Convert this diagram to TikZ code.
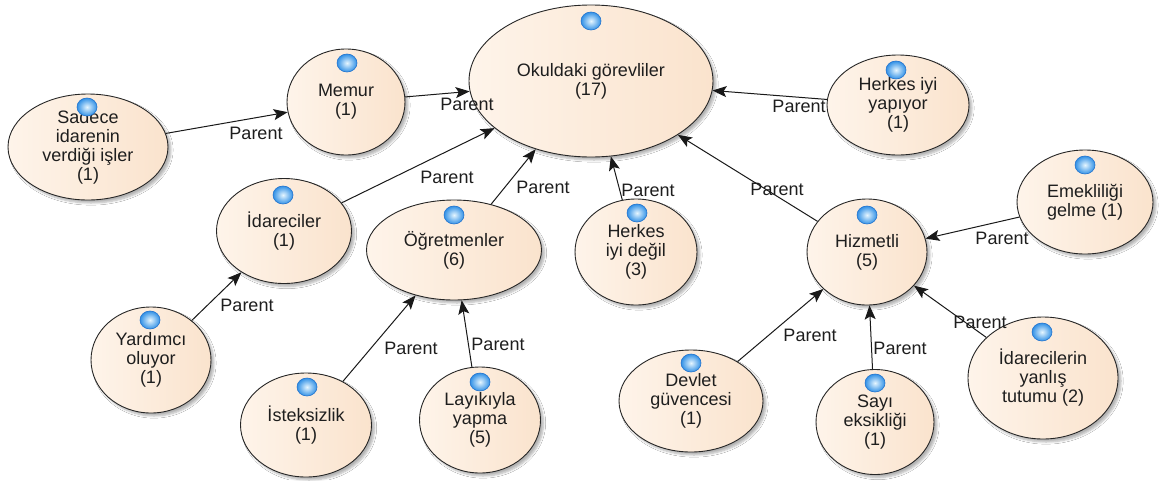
\documentclass[tikz,border=0pt]{standalone}
\usepackage{fontspec}
\setmainfont{Liberation Sans}
\usetikzlibrary{shapes.geometric,arrows.meta,shadows.blur}
\pgfdeclarelayer{background}
\pgfsetlayers{background,main}
\definecolor{peachA}{RGB}{254,244,234}
\definecolor{peachB}{RGB}{250,227,205}
\definecolor{ballin}{RGB}{230,246,255}
\definecolor{ballout}{RGB}{50,145,230}
\definecolor{ballrim}{RGB}{35,115,205}
\definecolor{txt}{RGB}{30,30,30}
\tikzset{
  ell/.style={ellipse, draw=black!85, line width=0.9pt, left color=peachA, right color=peachB,
    inner sep=0pt, align=center, text=txt, font=\fontsize{18}{19}\selectfont,
    blur shadow={shadow xshift=3pt, shadow yshift=-3pt, shadow blur steps=6, shadow opacity=30}},
  conn/.style={draw=black!90, line width=1pt, -{Stealth[length=14pt,width=11pt,inset=3pt]}},
  ghost/.style={draw=black!5, line width=1pt, -{Stealth[length=11pt,width=9pt,inset=3pt,color=black!18]},
    transform canvas={shift={(14pt,-15pt)}}},
  lab/.style={font=\fontsize{18}{19}\selectfont, text=txt, inner sep=0pt},
  dot/.style={inner color=ballin, outer color=ballout, draw=ballrim, line width=0.6pt}
}
\begin{document}
\begin{tikzpicture}[x=1pt,y=-1pt]
\useasboundingbox (0,0) rectangle (1161,480);
\fill[white] (0,0) rectangle (1161,480);

% nodes
\node[ell, minimum width=244pt, minimum height=152pt] (okul) at (591,81) {Okuldaki görevliler\\(17)};
\node[ell, minimum width=118pt, minimum height=106pt] (memur) at (346,102) {Memur\\(1)};
\node[ell, minimum width=160pt, minimum height=106pt] (sadece) at (88,147) {Sadece\\idarenin\\verdiği işler\\(1)};
\node[ell, minimum width=142pt, minimum height=100pt] (herkesy) at (898,105) {Herkes iyi\\yapıyor\\(1)};
\node[ell, minimum width=135pt, minimum height=105pt] (idare) at (284,231) {İdareciler\\(1)};
\node[ell, minimum width=175pt, minimum height=100pt] (ogret) at (454,250) {Öğretmenler\\(6)};
\node[ell, minimum width=122pt, minimum height=106pt] (herkesd) at (636,252) {Herkes\\iyi değil\\(3)};
\node[ell, minimum width=120pt, minimum height=106pt] (hizmet) at (867,252) {Hizmetli\\(5)};
\node[ell, minimum width=136pt, minimum height=104pt] (emek) at (1085,202) {Emekliliği\\gelme (1)};
\node[ell, minimum width=120pt, minimum height=106pt] (yard) at (151,360) {Yardımcı\\oluyor\\(1)};
\node[ell, minimum width=131pt, minimum height=104pt] (istek) at (306,425) {İsteksizlik\\(1)};
\node[ell, minimum width=121pt, minimum height=106pt] (layik) at (480,420) {Layıkıyla\\yapma\\(5)};
\node[ell, minimum width=144pt, minimum height=102pt] (devlet) at (691,401) {Devlet\\güvencesi\\(1)};
\node[ell, minimum width=118pt, minimum height=105pt] (sayi) at (875,422) {Sayı\\eksikliği\\(1)};
\node[ell, minimum width=150pt, minimum height=122pt] (idarel) at (1043,378) {İdarecilerin\\yanlış\\tutumu (2)};

% ghost connectors
\begin{pgfonlayer}{background}
\draw[ghost] (sadece) -- (memur);
\draw[ghost] (memur) -- (okul);
\draw[ghost] (idare) -- (okul);
\draw[ghost] (ogret) -- (okul);
\draw[ghost] (herkesd) -- (okul);
\draw[ghost] (hizmet) -- (okul);
\draw[ghost] (herkesy) -- (okul);
\draw[ghost] (yard) -- (idare);
\draw[ghost] (istek) -- (ogret);
\draw[ghost] (layik) -- (ogret);
\draw[ghost] (devlet) -- (hizmet);
\draw[ghost] (sayi) -- (hizmet);
\draw[ghost] (idarel) -- (hizmet);
\draw[ghost] (emek) -- (hizmet);
\end{pgfonlayer}

% connectors
\draw[conn] (sadece) -- (memur);
\draw[conn] (memur) -- (okul);
\draw[conn] (idare) -- (okul);
\draw[conn] (ogret) -- (okul);
\draw[conn] (herkesd) -- (okul);
\draw[conn] (hizmet) -- (okul);
\draw[conn] (herkesy) -- (okul);
\draw[conn] (yard) -- (idare);
\draw[conn] (istek) -- (ogret);
\draw[conn] (layik) -- (ogret);
\draw[conn] (devlet) -- (hizmet);
\draw[conn] (sayi) -- (hizmet);
\draw[conn] (idarel) -- (hizmet);
\draw[conn] (emek) -- (hizmet);

% labels
\node[lab] (p1) at (256,133) {Parent};
\node[lab] (p2) at (467,104) {Parent};
\node[lab] (p3) at (447,177) {Parent};
\node[lab] (p4) at (543,187) {Parent};
\node[lab] (p5) at (648,190) {Parent};
\node[lab] (p6) at (777,189) {Parent};
\node[lab] (p7) at (799,106) {Parent};
\node[lab] (p8) at (1002,238) {Parent};
\node[lab] (p9) at (247,305) {Parent};
\node[lab] (p10) at (411,348) {Parent};
\node[lab] (p11) at (498,344) {Parent};
\node[lab] (p12) at (810,335) {Parent};
\node[lab] (p13) at (900,348) {Parent};
\node[lab] (p14) at (980,322) {Parent};

% blue markers
\foreach \p in {(591,21),(347,63),(87,107),(896,70),(283,195),(454,215),(637,213),(867,215),
  (1085,165),(150,320),(307,387),(480,382),(691,363),(875,383),(1042,332)}
  \shade[dot] \p ellipse [x radius=10pt, y radius=9pt];
\end{tikzpicture}
\end{document}
